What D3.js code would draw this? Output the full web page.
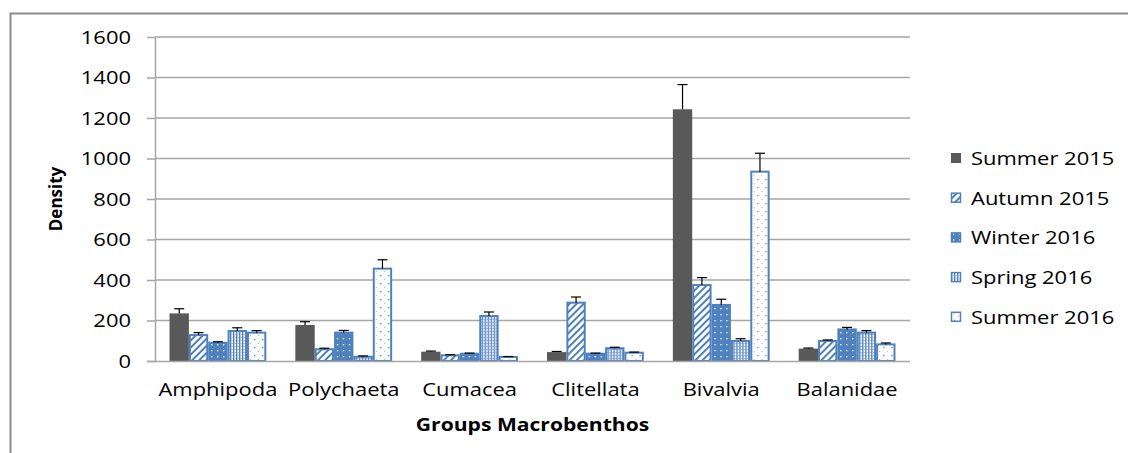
<!DOCTYPE html>
<html>
<head>
<meta charset="utf-8">
<script src="https://cdn.jsdelivr.net/npm/d3@7"></script>
<style>
  html, body { margin: 0; padding: 0; background: #fff; }
  svg { display: block; }
  text { font-family: "Open Sans", sans-serif; fill: #000; }
</style>
</head>
<body>
<svg id="chart" width="1128" height="453"></svg>
<script>
const categories = ["Amphipoda", "Polychaeta", "Cumacea", "Clitellata", "Bivalvia", "Balanidae"];
const seriesNames = ["Summer 2015", "Autumn 2015", "Winter 2016", "Spring 2016", "Summer 2016"];
const summer2015 = [235, 178, 46, 44, 1243, 61];
const summer2015Err = [23, 16, 3, 3, 122, 3];
const autumn2015 = [128, 58, 28, 288, 375, 99];
const autumn2015Err = [12, 5, 3, 28, 37, 5];
const winter2016 = [90, 140, 36, 36, 277, 156];
const winter2016Err = [5, 11, 3, 3, 28, 10];
const spring2016 = [148, 21, 222, 63, 99, 140];
const spring2016Err = [16, 4, 20, 5, 11, 10];
const summer2016 = [140, 456, 20, 41, 935, 82];
const summer2016Err = [10, 44, 2, 3, 91, 7];
const yTicks = [0, 200, 400, 600, 800, 1000, 1200, 1400, 1600];
const xTitle = "Groups Macrobenthos";
const yTitle = "Density";

const seriesValues = [summer2015, autumn2015, winter2016, spring2016, summer2016];
const seriesErrors = [summer2015Err, autumn2015Err, winter2016Err, spring2016Err, summer2016Err];

const svg = d3.select("#chart");
const BLUE = "#4F81BD";
const DARK = "#595959";
const SX = 1.22; // horizontal text stretch

// patterns
const defs = svg.append("defs");
const pA = defs.append("pattern").attr("id", "pA").attr("patternUnits", "userSpaceOnUse")
  .attr("width", 5).attr("height", 5).attr("patternTransform", "rotate(45)");
pA.append("rect").attr("width", 5).attr("height", 5).attr("fill", "#fff");
pA.append("rect").attr("x", 0).attr("width", 2).attr("height", 5).attr("fill", BLUE);
const pW = defs.append("pattern").attr("id", "pW").attr("patternUnits", "userSpaceOnUse")
  .attr("width", 6).attr("height", 6);
pW.append("rect").attr("width", 6).attr("height", 6).attr("fill", BLUE);
pW.append("rect").attr("x", 2).attr("y", 2).attr("width", 1.3).attr("height", 1.3).attr("fill", "#fff");
const pS = defs.append("pattern").attr("id", "pS").attr("patternUnits", "userSpaceOnUse")
  .attr("width", 3).attr("height", 3);
pS.append("rect").attr("width", 3).attr("height", 3).attr("fill", "#fff");
pS.append("rect").attr("x", 0).attr("width", 1.4).attr("height", 3).attr("fill", BLUE);
pS.append("rect").attr("x", 1.4).attr("y", 1).attr("width", 1.6).attr("height", 0.8).attr("fill", "#9db5d8");
const pU = defs.append("pattern").attr("id", "pU").attr("patternUnits", "userSpaceOnUse")
  .attr("width", 8).attr("height", 8);
pU.append("rect").attr("width", 8).attr("height", 8).attr("fill", "#fff");
pU.append("rect").attr("x", 3).attr("y", 3).attr("width", 1.3).attr("height", 1.3).attr("fill", BLUE);
pU.append("rect").attr("x", 7).attr("y", 7).attr("width", 1.3).attr("height", 1.3).attr("fill", "#9db5d8");

const fills = [DARK, "url(#pA)", "url(#pW)", "url(#pS)", "url(#pU)"];
const strokes = ["none", BLUE, BLUE, BLUE, BLUE];

// frame
svg.append("path").attr("d", "M10.5,453 L10.5,13.5 L1128,13.5")
  .attr("fill", "none").attr("stroke", "#8c8c8c").attr("stroke-width", 2);

const pLeft = 155, pRight = 910, pTop = 37, pBottom = 361;
const y = d3.scaleLinear().domain([0, 1600]).range([pBottom, pTop]);
const x0 = d3.scaleBand().domain(categories).range([pLeft, pRight]).padding(0);
const bw = x0.bandwidth();
const gap = bw * 1.5 / 6.5;
const x1 = d3.scaleBand().domain(seriesNames).range([gap / 2, bw - gap / 2]).padding(0);

// gridlines
svg.append("g").selectAll("line").data(yTicks.filter(d => d > 0)).join("line")
  .attr("x1", pLeft).attr("x2", pRight)
  .attr("y1", d => y(d)).attr("y2", d => y(d))
  .attr("stroke", "#a6a6a6").attr("stroke-width", 1.5);

// y axis
const yAxis = svg.append("g").attr("transform", `translate(${pLeft},0)`)
  .call(d3.axisLeft(y).tickValues(yTicks).tickFormat(d3.format("d")).tickSize(8).tickSizeOuter(0));
yAxis.select(".domain").attr("stroke", "#a6a6a6").attr("stroke-width", 1.5);
yAxis.selectAll(".tick line").attr("stroke", "#a6a6a6").attr("stroke-width", 1.5);
yAxis.selectAll(".tick text")
  .attr("font-family", "Open Sans").attr("font-size", 18).attr("fill", "#000")
  .attr("x", -24 / SX).attr("dy", "0.36em")
  .attr("transform", `scale(${SX},1)`);

// bars
const groups = svg.append("g").selectAll("g").data(categories).join("g")
  .attr("transform", d => `translate(${x0(d)},0)`);

seriesNames.forEach((s, si) => {
  groups.append("rect")
    .attr("x", (d, ci) => x1(s) + (si > 0 ? 1 : 0))
    .attr("y", (d, ci) => y(seriesValues[si][ci]))
    .attr("width", x1.bandwidth() - (si > 0 ? 2 : 0))
    .attr("height", (d, ci) => pBottom - y(seriesValues[si][ci]))
    .attr("fill", fills[si])
    .attr("stroke", strokes[si])
    .attr("stroke-width", si > 0 ? 2 : 0);
});

// x axis line
svg.append("line").attr("x1", 147).attr("x2", pRight).attr("y1", pBottom + 0.5).attr("y2", pBottom + 0.5)
  .attr("stroke", "#a6a6a6").attr("stroke-width", 1.5);

// error bars
seriesNames.forEach((s, si) => {
  const eg = groups.append("g");
  eg.append("line")
    .attr("x1", (d, ci) => x1(s) + x1.bandwidth() / 2)
    .attr("x2", (d, ci) => x1(s) + x1.bandwidth() / 2)
    .attr("y1", (d, ci) => y(seriesValues[si][ci]))
    .attr("y2", (d, ci) => y(seriesValues[si][ci] + seriesErrors[si][ci]))
    .attr("stroke", "#000").attr("stroke-width", 1.2);
  eg.append("line")
    .attr("x1", (d, ci) => x1(s) + x1.bandwidth() / 2 - 5)
    .attr("x2", (d, ci) => x1(s) + x1.bandwidth() / 2 + 5)
    .attr("y1", (d, ci) => y(seriesValues[si][ci] + seriesErrors[si][ci]))
    .attr("y2", (d, ci) => y(seriesValues[si][ci] + seriesErrors[si][ci]))
    .attr("stroke", "#000").attr("stroke-width", 1.2);
});

// category labels
svg.append("g").selectAll("text").data(categories).join("text")
  .attr("transform", d => `translate(${x0(d) + bw / 2},396) scale(${SX},1)`)
  .attr("text-anchor", "middle").attr("font-size", 18)
  .text(d => d);

// axis titles
svg.append("text")
  .attr("transform", `translate(${(pLeft + pRight) / 2},431) scale(${SX},1)`)
  .attr("text-anchor", "middle").attr("font-size", 17.3).attr("font-weight", "bold")
  .text(xTitle);
svg.append("text")
  .attr("transform", `translate(62,${(pTop + pBottom) / 2}) rotate(-90)`)
  .attr("text-anchor", "middle").attr("font-size", 17).attr("font-weight", "bold")
  .text(yTitle);

// legend
const legend = svg.append("g").selectAll("g").data(seriesNames).join("g")
  .attr("transform", (d, i) => `translate(951,${158 + i * 39.7})`);
legend.append("rect")
  .attr("x", (d, i) => i > 0 ? 0.5 : 0).attr("y", (d, i) => i > 0 ? -4.5 : -5)
  .attr("width", (d, i) => i > 0 ? 9 : 10).attr("height", (d, i) => i > 0 ? 9 : 10)
  .attr("fill", (d, i) => fills[i]).attr("stroke", (d, i) => strokes[i]).attr("stroke-width", (d, i) => i > 0 ? 1.5 : 0);
legend.append("text")
  .attr("transform", `translate(20,7) scale(${SX},1)`)
  .attr("font-size", 18)
  .text(d => d);
</script>
</body>
</html>
